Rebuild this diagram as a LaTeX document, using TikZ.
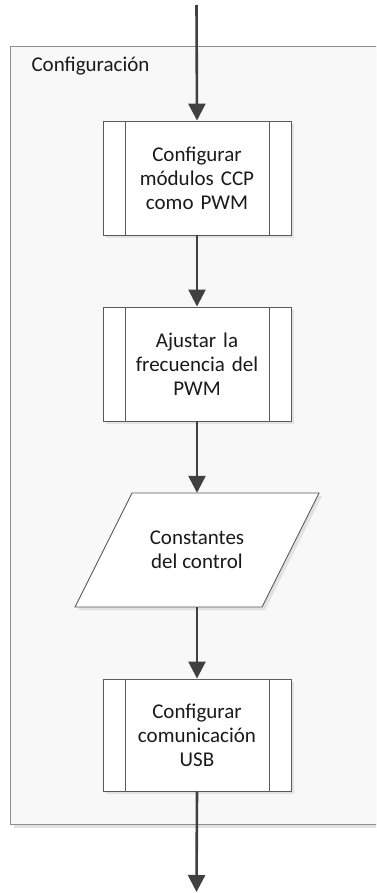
\documentclass[tikz,border=0pt]{standalone}
\usepackage{fontspec}
\setmainfont{Carlito}
\usetikzlibrary{arrows.meta,calc,shadows}
\definecolor{arrowc}{HTML}{404040}
\definecolor{boxc}{HTML}{5A5A5A}
\definecolor{contc}{HTML}{8E8E8E}
\definecolor{contfill}{HTML}{F8F8F8}
\definecolor{shadc}{HTML}{E2E2E2}
\definecolor{textc}{HTML}{1A1A1A}
\tikzset{
  flowarrow/.style={draw=arrowc, line width=2.6pt, -{Triangle[length=17pt,width=17pt]}},
  proc/.style={draw=boxc, line width=0.9pt, fill=white, minimum width=188pt,
    text width=150pt, align=center, text=textc, font=\fontsize{21}{24}\selectfont,
    drop shadow={shadow xshift=3pt, shadow yshift=-3pt, fill=shadc, opacity=1},
    path picture={
      \draw[boxc, line width=0.9pt]
        ([xshift=22pt]path picture bounding box.north west) -- ([xshift=22pt]path picture bounding box.south west)
        ([xshift=-22pt]path picture bounding box.north east) -- ([xshift=-22pt]path picture bounding box.south east);
    }},
  iotext/.style={minimum width=187pt, minimum height=114pt, align=center, text=textc,
    font=\fontsize{21}{24}\selectfont},
}
\begin{document}
\begin{tikzpicture}[x=1pt,y=-1pt]
\useasboundingbox (0,0) rectangle (376,893);
\fill[white] (0,0) rectangle (376,893);
% container
\begin{scope}
\clip (0,0) rectangle (376,893);
\fill[shadc] (13.5,49.5) rectangle (390,827.5);
\draw[contc, fill=contfill, line width=1pt] (10.5,46.5) rectangle (385,824);
\end{scope}
\node[anchor=base west, text=textc, font=\fontsize{21}{24}\selectfont] (lbl) at (28,71.5) {Configuración};
% start/end coordinates
\coordinate (start) at (196.5,5);
\coordinate (finish) at (196.5,892);
% boxes
\node[proc, minimum height=114pt] (b1) at (197,178) {Configurar\\módulos CCP\\como PWM};
\node[proc, minimum height=114pt] (b2) at (197,364) {Ajustar la\\frecuencia del\\PWM};
% parallelogram
\coordinate (pc) at (197,550);
\fill[shadc] ($(pc)+(-62,-54)$) -- ($(pc)+(125,-54)$) -- ($(pc)+(68,60)$) -- ($(pc)+(-119,60)$) -- cycle;
\draw[boxc, line width=0.9pt, fill=white] ($(pc)+(-65,-57)$) -- ($(pc)+(122,-57)$) -- ($(pc)+(65,57)$) -- ($(pc)+(-122,57)$) -- cycle;
\node[iotext] (p) at (pc) {Constantes\\del control};
\node[proc, minimum height=112pt] (b4) at (197,735) {Configurar\\comunicación\\USB};
% arrows
\draw[flowarrow] (start) -- (b1.north);
\draw[flowarrow] (b1.south) -- (b2.north);
\draw[flowarrow] (b2.south) -- (p.north);
\draw[flowarrow] (p.south) -- (b4.north);
\draw[flowarrow] (b4.south) -- (finish);
\end{tikzpicture}
\end{document}
